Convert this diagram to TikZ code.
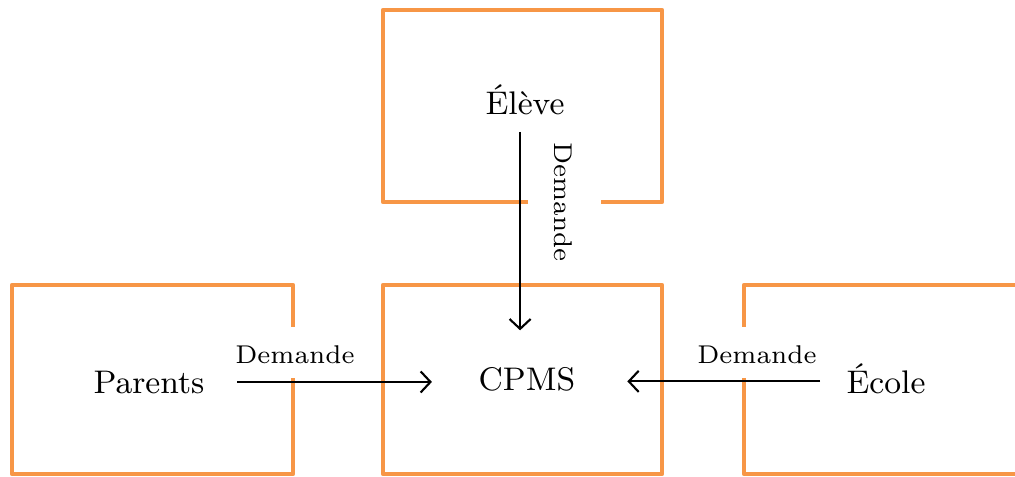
\documentclass[tikz,border=0pt]{standalone}
\usepackage{tikz}
\usetikzlibrary{arrows.meta}
\definecolor{cadre}{HTML}{F79646}
\tikzset{
  boite/.style    = {draw=cadre, line width=1.35pt, line join=round},
  acteur/.style   = {inner sep=0pt, font=\fontsize{9.3}{11}\selectfont},
  etiquette/.style= {inner sep=0pt, font=\fontsize{7.3}{9}\selectfont},
  fleche/.style   = {draw, line width=0.6pt, -{Straight Barb[length=2.8pt,width=6pt]}}
}
\begin{document}
\begin{tikzpicture}[x=0.01cm, y=-0.01cm]
  \clip (0,0) rectangle (1015,477);

  % cadres
  \draw[boite] (528,202) -- (383,202) -- (383,10) -- (662,10) -- (662,202) -- (601,202);
  \draw[boite] (293,327) -- (293,285) -- (12,285) -- (12,474) -- (293,474) -- (293,378);
  \draw[boite] (383,285) rectangle (662,474);
  \draw[boite] (744,327) -- (744,285) -- (1030,285);
  \draw[boite] (744,378) -- (744,474) -- (1030,474);

  % acteurs
  \node[acteur, anchor=base] (eleve)   at (525,115) {Élève};
  \node[acteur, anchor=base] (cpms)    at (527,391) {CPMS};
  \node[acteur, anchor=base] (parents) at (149,394) {Parents};
  \node[acteur, anchor=base] (ecole)   at (886,394) {École};

  % demandes
  \draw[fleche, shorten <=4.5pt, shorten >=10.5pt] ([xshift=-1.4pt]eleve.south) -- ([xshift=-1.4pt]eleve.south |- cpms.north);
  \draw[fleche, shorten <=9.1pt, shorten >=13.1pt] ([yshift=0.3pt]parents.east) -- ([yshift=0.3pt]parents.east -| cpms.west);
  \draw[fleche, shorten <=7.3pt, shorten >=14.6pt] ([yshift=-0.6pt]ecole.west) -- ([yshift=-0.6pt]ecole.west -| cpms.east);

  \node[etiquette, rotate=-90] (dem-eleve)   at (563,202) {Demande};
  \node[etiquette] (dem-parents) at (295,355) {Demande};
  \node[etiquette] (dem-ecole)   at (757,355) {Demande};
\end{tikzpicture}
\end{document}
